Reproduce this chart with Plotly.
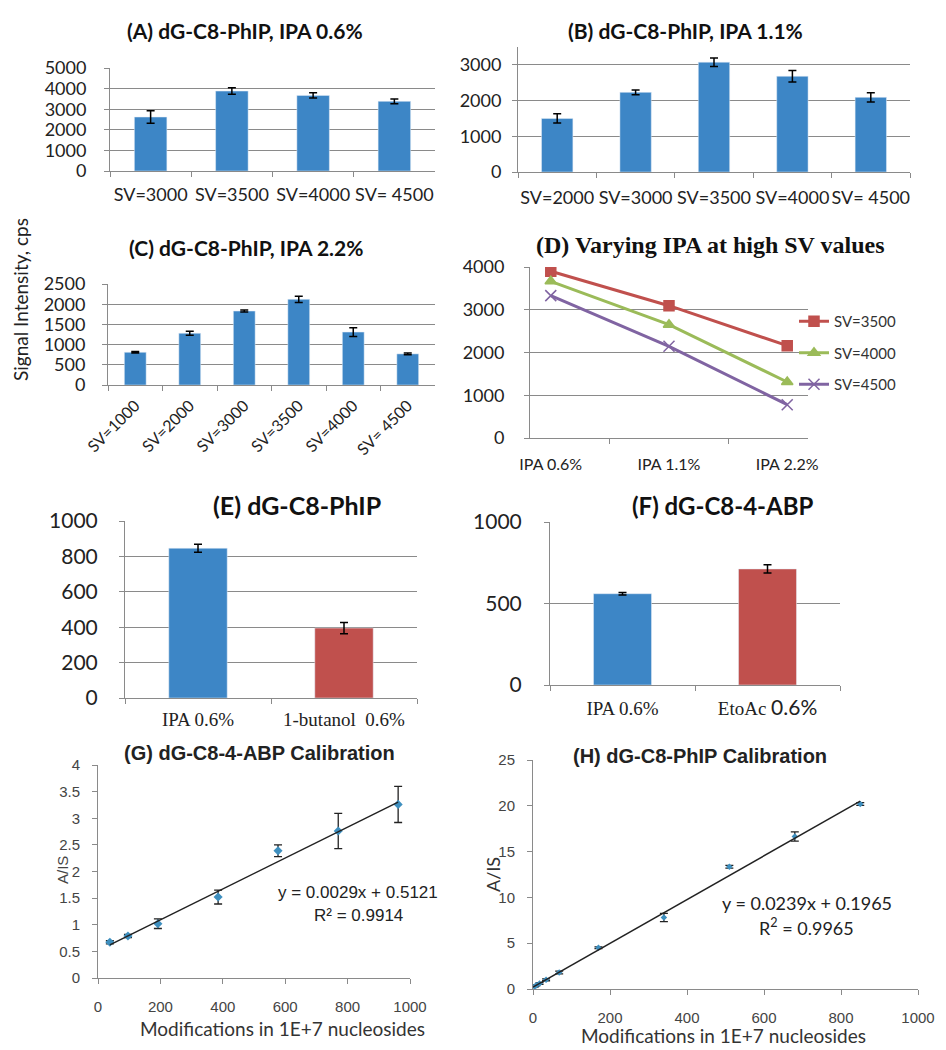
import plotly.graph_objects as go

# page body has an 8px default margin: lay everything out in page pixels, then offset
PAGE_W, PAGE_H, OFF = 946, 1050, 8
W, H = PAGE_W - OFF, PAGE_H - OFF

# ---------------- data ----------------
A_cats = ["SV=3000", "SV=3500", "SV=4000", "SV= 4500"]
A_vals = [2620, 3880, 3670, 3380]
A_err = [300, 160, 130, 120]

B_cats = ["SV=2000", "SV=3000", "SV=3500", "SV=4000", "SV= 4500"]
B_vals = [1500, 2230, 3075, 2680, 2090]
B_err = [130, 65, 120, 160, 130]

C_cats = ["SV=1000", "SV=2000", "SV=3000", "SV=3500", "SV=4000", "SV= 4500"]
C_vals = [810, 1280, 1830, 2120, 1310, 770]
C_err = [20, 50, 25, 75, 110, 20]

D_cats = ["IPA 0.6%", "IPA 1.1%", "IPA 2.2%"]
D_sv3500 = [3900, 3095, 2160]
D_sv4000 = [3665, 2650, 1310]
D_sv4500 = [3330, 2145, 780]

E_cats = ["IPA 0.6%", "1-butanol  0.6%"]
E_vals = [846, 395]
E_err = [22, 32]

F_cats = ["IPA 0.6%", "EtoAc <span style='font-family:Lato;font-size:21px'>0.6%</span>"]
F_vals = [560, 712]
F_err = [8, 25]

G_x = [38, 96, 192, 385, 577, 770, 962]
G_y = [0.67, 0.79, 1.02, 1.52, 2.39, 2.76, 3.26]
G_err = [0.03, 0.03, 0.09, 0.13, 0.11, 0.33, 0.34]
G_fit = [0.0029, 0.5121, 0.9914]   # slope, intercept, R^2

H_x = [4.25, 8.5, 17, 34, 68, 170, 340, 510, 680, 850]
H_y = [0.25, 0.4, 0.6, 1.0, 1.8, 4.5, 7.8, 13.35, 16.65, 20.2]
H_err = [0.05, 0.05, 0.1, 0.1, 0.15, 0.1, 0.45, 0.15, 0.5, 0.15]
H_fit = [0.0239, 0.1965, 0.9965]

# ---------------- style ----------------
BLUE = "#3d86c6"
RED = "#c0504d"
GRAY = "#8a8a8a"
TXT = "#222222"
SANS = "Lato"
SERIF = "Liberation Serif"
ARIAL = "Liberation Sans"


def px(x):
    return (x - OFF) / W


def py(y):
    return 1 - (y - OFF) / H


def dx(l, r):
    return [px(l), px(r)]


def dy(t, b):
    return [py(b), py(t)]


def err(arr, thick=1.5, width=4):
    return dict(type="data", array=arr, color="black", thickness=thick, width=width, visible=True)


def cat_x(l, r, anchor, font, angle=0, standoff=6):
    return dict(domain=dx(l, r), anchor=anchor, type="category", showline=True, linecolor=GRAY,
                linewidth=1, ticks="outside", tickson="boundaries", ticklen=5, tickcolor=GRAY,
                showgrid=False, zeroline=False, tickfont=font, tickangle=angle,
                ticklabelstandoff=standoff, fixedrange=True, automargin=False)


def bar_y(t, b, anchor, top, dtick, font, standoff=12):
    return dict(domain=dy(t, b), anchor=anchor, range=[0, top], dtick=dtick, showline=True,
                linecolor=GRAY, linewidth=1, showgrid=True, gridcolor=GRAY, gridwidth=1,
                ticks="outside", ticklen=5, tickcolor=GRAY, zeroline=False, tickfont=font,
                ticklabelstandoff=standoff, fixedrange=True, automargin=False)


def lin_ax(anchor, rng, dtick, font, standoff, domain):
    return dict(anchor=anchor, range=rng, dtick=dtick, showline=True, linecolor=GRAY, linewidth=1,
                showgrid=False, zeroline=False, ticks="outside", ticklen=5, tickcolor=GRAY,
                tickfont=font, ticklabelstandoff=standoff, fixedrange=True, automargin=False,
                domain=domain)


fig = go.Figure()

# A
fig.add_trace(go.Bar(x=A_cats, y=A_vals, error_y=err(A_err), marker_color=BLUE,
                     xaxis="x", yaxis="y", showlegend=False))
# B
fig.add_trace(go.Bar(x=B_cats, y=B_vals, error_y=err(B_err), marker_color=BLUE,
                     xaxis="x2", yaxis="y2", showlegend=False))
# C
fig.add_trace(go.Bar(x=C_cats, y=C_vals, error_y=err(C_err), marker_color=BLUE,
                     xaxis="x3", yaxis="y3", showlegend=False))
# D
for name, vals, col, sym, msize in [("SV=3500", D_sv3500, "#c0504d", "square", 10),
                                     ("SV=4000", D_sv4000, "#9bbb59", "triangle-up", 10),
                                     ("SV=4500", D_sv4500, "#8064a2", "x-thin-open", 11)]:
    fig.add_trace(go.Scatter(x=D_cats, y=vals, mode="lines+markers", name=name,
                             legendgroup=name,
                             line=dict(color=col, width=3),
                             marker=dict(symbol=sym, size=msize, color=col,
                                         line=dict(color=col, width=1.5)),
                             xaxis="x4", yaxis="y4"))
# E
fig.add_trace(go.Bar(x=E_cats, y=E_vals, error_y=err(E_err), marker_color=[BLUE, RED],
                     xaxis="x5", yaxis="y5", showlegend=False))
# F
fig.add_trace(go.Bar(x=F_cats, y=F_vals, error_y=err(F_err), marker_color=[BLUE, RED],
                     xaxis="x6", yaxis="y6", showlegend=False))
# G
fig.add_trace(go.Scatter(x=G_x, y=G_y, mode="markers",
                         error_y=dict(type="data", array=G_err, color="#222", thickness=1.3, width=4),
                         marker=dict(symbol="diamond", size=7, color="#3e8fbf"),
                         xaxis="x7", yaxis="y7", showlegend=False))
gx = [G_x[0], G_x[-1]]
fig.add_trace(go.Scatter(x=gx, y=[G_fit[0] * v + G_fit[1] for v in gx], mode="lines",
                         line=dict(color="#222", width=1.5), xaxis="x7", yaxis="y7",
                         showlegend=False))
# H
fig.add_trace(go.Scatter(x=H_x, y=H_y, mode="markers",
                         error_y=dict(type="data", array=H_err, color="#222", thickness=1.3, width=4),
                         marker=dict(symbol="diamond", size=5, color="#3e8fbf"),
                         xaxis="x8", yaxis="y8", showlegend=False))
hx = [0, H_x[-1]]
fig.add_trace(go.Scatter(x=hx, y=[H_fit[0] * v + H_fit[1] for v in hx], mode="lines",
                         line=dict(color="#222", width=1.5), xaxis="x8", yaxis="y8",
                         showlegend=False))

f18 = dict(family=SANS, size=18, color=TXT)
f16 = dict(family=SANS, size=16, color=TXT)
f20 = dict(family=SANS, size=21, color=TXT)
fser = dict(family=SERIF, size=19, color=TXT)
fsm = dict(family=ARIAL, size=15, color="#444")

fig.update_layout(
    width=W, height=H, margin=dict(l=0, r=0, t=0, b=0, autoexpand=False),
    paper_bgcolor="white", plot_bgcolor="white", bargap=0.6,
    xaxis=cat_x(110, 435, "y", f18, standoff=7),
    yaxis=bar_y(68, 171, "x", 5000, 1000, f18, standoff=14),
    xaxis2=cat_x(518, 910, "y2", f18, standoff=9),
    yaxis2=bar_y(47, 172, "x2", 3500, 1000, f18, standoff=7),
    xaxis3=cat_x(108, 435, "y3", f16, angle=-45, standoff=4),
    yaxis3=bar_y(284, 385, "x3", 2500, 500, f18, standoff=13),
    xaxis4=cat_x(530, 808, "y4", f16, standoff=12),
    yaxis4=bar_y(267, 438, "x4", 4000, 1000, f18, standoff=16),
    xaxis5=cat_x(125, 417, "y5", fser, standoff=4),
    yaxis5=bar_y(521, 698, "x5", 1000, 200, f20, standoff=17),
    xaxis6=cat_x(550, 840, "y6", fser, standoff=6),
    yaxis6=bar_y(522, 685, "x6", 1000, 500, f20, standoff=18),
    xaxis7=lin_ax("y7", [0, 1000], 200, fsm, 10, dx(98, 410)),
    yaxis7=lin_ax("x7", [0, 4], 0.5, fsm, 9, dy(765, 978)),
    xaxis8=lin_ax("y8", [0, 1000], 200, fsm, 10, dx(533, 918)),
    yaxis8=lin_ax("x8", [0, 25], 5, fsm, 9, dy(760, 989)),
    legend=dict(x=px(794), y=py(305), xanchor="left", yanchor="top",
                font=dict(family=SANS, size=15, color="#333"), bgcolor="rgba(0,0,0,0)",
                tracegroupgap=9, itemwidth=30),
)


def ann(x, y, text, font, angle=0):
    fig.add_annotation(x=px(x), y=py(y), xref="paper", yref="paper", text=text,
                       showarrow=False, font=font, textangle=angle,
                       xanchor="center", yanchor="middle")


tb = dict(family=SANS, size=21, color="#111")
ann(245, 30, "<b>(A) dG-C8-PhIP, IPA 0.6%</b>", tb)
ann(685, 30, "<b>(B) dG-C8-PhIP, IPA 1.1%</b>", tb)
ann(246, 247, "<b>(C) dG-C8-PhIP, IPA 2.2%</b>", tb)
ann(710, 245, "<b>(D) Varying IPA at high SV values</b>", dict(family=SERIF, size=24, color="#111"))
ann(297, 505, "<b>(E) dG-C8-PhIP</b>", dict(family=SANS, size=25, color="#111"))
ann(723, 505, "<b>(F) dG-C8-4-ABP</b>", dict(family=SANS, size=24, color="#111"))
ann(259, 753, "<b>(G) dG-C8-4-ABP Calibration</b>", dict(family=ARIAL, size=20, color="#222"))
ann(700, 756, "<b>(H) dG-C8-PhIP Calibration</b>", dict(family=ARIAL, size=20, color="#222"))

ann(20, 300, "Signal Intensity, cps", dict(family=SANS, size=19, color=TXT), angle=-90)

ann(358, 892, f"y = {G_fit[0]}x + {G_fit[1]}", dict(family=ARIAL, size=17, color="#222"))
ann(358, 915, f"R² = {G_fit[2]}", dict(family=ARIAL, size=17, color="#222"))
ann(807, 903, f"y = {H_fit[0]}x + {H_fit[1]}", dict(family=SANS, size=18, color="#222"))
ann(806, 927, f"R<sup>2</sup> = {H_fit[2]}", dict(family=SANS, size=18, color="#222"))

ann(62, 870, "A/IS", dict(family=ARIAL, size=15, color="#444"), angle=-90)
ann(493, 875, "A/IS", dict(family=SANS, size=18, color="#333"), angle=-90)
ann(282, 1028, "Modifications in 1E+7 nucleosides", dict(family=SANS, size=19, color="#333"))
ann(723, 1035, "Modifications in 1E+7 nucleosides", dict(family=SANS, size=19, color="#333"))

fig.write_html("out.html")
